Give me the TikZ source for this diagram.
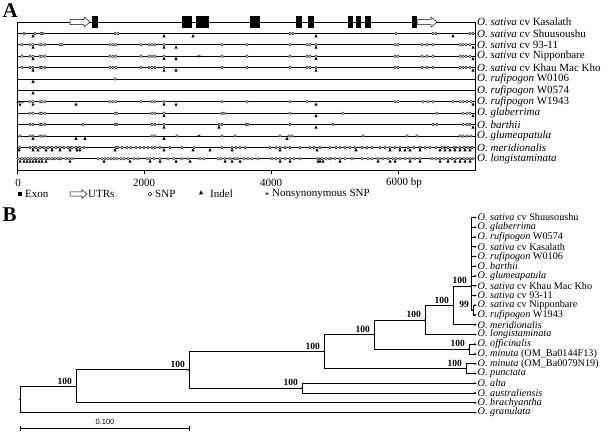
\documentclass[tikz,border=0pt]{standalone}
\usepackage{fontspec}
\setmainfont{Liberation Serif}
\setsansfont{Liberation Sans}
\usetikzlibrary{positioning, calc, arrows.meta}
\tikzset{every picture/.style={x=1pt, y=-1pt}}
\tikzset{seqline/.style={line width=0.8pt}}
\tikzset{exon/.style={fill=black}}
\tikzset{snp/.style={draw, fill=white, line width=0.4pt}}
\tikzset{rowlab/.style={anchor=west, inner sep=2pt, font=\fontsize{11}{12}\selectfont}}
\tikzset{legend/.style={anchor=west, inner sep=0pt, font=\fontsize{11}{12}\selectfont}}
\tikzset{tip/.style={anchor=west, inner sep=0.5pt, font=\fontsize{10.2}{10.5}\selectfont}}
\tikzset{branch/.style={line width=0.9pt}}
\tikzset{tipbr/.style={branch, -{Latex[length=2.6pt, width=2.2pt]}}}
\tikzset{boot/.style={anchor=south east, inner sep=0pt, font=\bfseries\fontsize{9.5}{10}\selectfont}}
\tikzset{panel/.style={anchor=base west, inner sep=0pt, font=\bfseries\fontsize{21}{21}\selectfont}}
\tikzset{indel/.pic={\fill (-1.6,3.9) -- (1.6,3.9) -- (0,0.7) -- cycle;}}
\tikzset{nsnp/.pic={\draw[line width=0.45pt] (0,0) -- (0,3.2) (-1.4,0.8) -- (1.4,2.4) (-1.4,2.4) -- (1.4,0.8);}}
\tikzset{utr/.pic={\draw[fill=white, line width=0.5pt] (0,-2.5) -- (14,-2.5) -- (14,-5) -- (20,0) -- (14,5) -- (14,2.5) -- (0,2.5) -- cycle;}}

\begin{document}
\begin{tikzpicture}
\useasboundingbox (0,0) rectangle (609,431);

% A: gene and polymorphism map
\node[panel] (labA) at (2.5,17.5) {A};
\foreach \r/\name in {1/{\textit{O. sativa} cv Kasalath}, 2/{\textit{O. sativa} cv Shuusoushu},
  3/{\textit{O. sativa} cv 93-11}, 4/{\textit{O. sativa} cv Nipponbare},
  5/{\textit{O. sativa} cv Khau Mac Kho}, 6/{\textit{O. rufipogon} W0106},
  7/{\textit{O. rufipogon} W0574}, 8/{\textit{O. rufipogon} W1943},
  9/{\textit{O. glaberrima}}, 10/{\textit{O. barthii}}, 11/{\textit{O. glumeapatula}},
  12/{\textit{O. meridionalis}}, 13/{\textit{O. longistaminata}}}
{
  \pgfmathsetmacro\yy{22+11.4*(\r-1)}
  \node[rowlab] (row\r) at (475,\yy) {\name};
  \draw[seqline] (17,\yy) -- (row\r.west);
}
\draw[seqline] (17,22) rectangle (475,170.2);

\foreach \a/\b in {92/98, 182/192, 196/209, 250/260, 296/302, 308/314, 348/353, 356/361, 365/371, 412/417}
  \fill[exon] (\a,16) rectangle (\b,28);
\pic at (70,22) {utr};
\pic at (417,22) {utr};

\foreach \r/\ts in {2/{33,164,193,316,453}, 3/{33,164,176,316,473}, 4/{33,164,176,316,473},
  5/{33,164,176,316,473}, 6/{33}, 7/{33}, 8/{20,33,76,164,176,316,473}, 9/{164,316,473},
  10/{164,219,316,473}, 11/{33,76,85,164,287},
  12/{19,33,38,46,52,60,70,77,80,115,164,193,210,232,280,317,356,390,400,405,410,420,440,445,450,455,460,465,470},
  13/{20,24,27,30,33,36,39,42,46,70,104,130,150,160,176,190,225,232,240,280,290,318,320,323,340,378,390,395,410,420,440,448,455,460,465,470}}
{
  \pgfmathsetmacro\yy{22+11.4*(\r-1)}
  \foreach \x in \ts \pic at (\x,\yy) {indel};
}
\foreach \r/\ss in {4/{199}, 8/{18,22}, 11/{199}, 12/{35,42,50,57,63,70,77,420,445,455,465,471},
  13/{22,28,35,41,47,53,60,235,320,330,440,452,462,470}}
{
  \pgfmathsetmacro\yy{22+11.4*(\r-1)}
  \foreach \x in \ss \pic at (\x,\yy-1.6) {nsnp};
}
\foreach \r/\cs in {2/{24,35,41,43,115,118,290,293,396,433,436,470,473},
  3/{22,30,33,40,42,45,60,62,110,113,116,141,149,152,155,164,222,247,290,307,310,316,395,398,422,427,433,460,463,466,470},
  4/{22,30,33,40,42,45,110,113,116,141,149,152,155,164,222,247,290,307,310,316,395,398,422,427,433,460,463,466,470},
  5/{22,30,33,40,42,45,110,113,116,141,149,152,155,164,222,247,290,307,310,316,395,398,422,427,433,460,463,466,470},
  6/{115},
  8/{30,33,40,42,45,110,113,116,141,152,155,164,222,247,290,307,395,398,423,428,433,453,460,463,467,471},
  9/{30,33,40,42,45,115,117,152,155,164,222,224,290,343,437,463,467,470},
  10/{30,33,40,42,45,83,115,117,152,155,164,219,222,246,248,290,333,433,437,463,467,470},
  11/{20,30,33,40,42,45,152,155,177,222,235,280,289,292,363,407,417,460,463,467,471},
  12/{20,30,33,36,40,44,48,52,56,60,64,68,72,76,80,84,116,118,122,127,131,136,140,144,148,152,155,160,170,182,194,222,232,236,240,245,270,276,280,285,290,300,310,314,320,330,336,340,345,350,355,362,367,372,380,385,390,395,400,408,414,420,425,430,436,442,448,454,460,464,468,472},
  13/{18,22,25,28,31,34,37,40,43,46,49,52,55,58,61,66,69,72,98,102,105,108,111,114,117,121,124,128,134,138,147,150,154,160,168,174,182,188,200,204,218,221,225,230,235,238,244,248,252,258,272,276,280,285,290,294,300,318,322,326,330,335,340,345,352,362,368,372,378,383,388,393,396,400,405,410,415,420,432,436,440,444,448,452,456,460,464,467,470,473}}
{
  \pgfmathsetmacro\yy{22+11.4*(\r-1)}
  \foreach \x in \cs \draw[snp] (\x,\yy) circle (1.35);
}

\foreach \t in {0,2000,4000,6000}
  \draw[seqline] ({17+\t*0.0635},170.2) -- ++(0,4);
\node[legend, anchor=center] (ax0) at (18,183) {0};
\node[legend, anchor=center] (ax2) at (144,183) {2000};
\node[legend, anchor=center] (ax4) at (271,183) {4000};
\node[legend] (ax6) at (386,183) {6000 bp};

\fill[exon] (17.5,191.5) rectangle (21.5,195.5);
\node[legend] (lexon) at (25,194) {Exon};
\pic[scale=0.85] at (70,194) {utr};
\node[legend] (lutr) at (88,194) {UTRs};
\draw[snp, line width=0.5pt] (150,194) circle (1.9);
\node[legend] (lsnp) at (155,194) {SNP};
\pic[scale=1.25] at (201,189.5) {indel};
\node[legend] (lindel) at (210,194) {Indel};
\pic at (267,192) {nsnp};
\node[legend] (lnsnp) at (272,194) {Nonsynonymous SNP};

% B: tree
\node[panel] (labB) at (2.5,221) {B};
\foreach \k/\name in {0/{\textit{O. sativa} cv Shuusoushu}, 1/{\textit{O. glaberrima}},
  2/{\textit{O. rufipogon} W0574}, 3/{\textit{O. sativa} cv Kasalath},
  4/{\textit{O. rufipogon} W0106}, 5/{\textit{O. barthii}}, 6/{\textit{O. glumeapatula}},
  7/{\textit{O. sativa} cv Khau Mac Kho}, 8/{\textit{O. sativa} cv 93-11},
  9/{\textit{O. sativa} cv Nipponbare}, 10/{\textit{O. rufipogon} W1943},
  11/{\textit{O. meridionalis}}, 12/{\textit{O. longistaminata}}, 13/{\textit{O. officinalis}},
  14/{\textit{O. minuta} (OM\_Ba0144F13)}, 15/{\textit{O. minuta} (OM\_Ba0079N19)},
  16/{\textit{O. punctata}}, 17/{\textit{O. alta}}, 18/{\textit{O. australiensis}},
  19/{\textit{O. brachyantha}}, 20/{\textit{O. granulata}}}
  \node[tip] (t\k) at (477,{217.5+9.75*\k}) {\name};

\coordinate (root) at (20,399.4);
\coordinate (nA) at (76,386.3);
\coordinate (nB) at (189,369.9);
\coordinate (nC) at (302,388.1);
\coordinate (nD) at (324,351.6);
\coordinate (nE) at (374,334.6);
\coordinate (nF) at (425,320);
\coordinate (nG) at (453,305.5);
\coordinate (nsat) at (471,286);
\coordinate (n99) at (473,310.1);
\coordinate (nOM) at (469,349.1);
\coordinate (nMP) at (466,368.6);

\draw[branch] (root) |- (nA);
\draw[tipbr] (root) |- (t20.west);
\draw[branch] (nA) |- (nB);
\draw[tipbr] (nA) |- (t19.west);
\draw[branch] (nB) |- (nD);
\draw[branch] (nB) |- (nC);
\draw[tipbr] (nC) |- (t17.west);
\draw[tipbr] (nC) |- (t18.west);
\draw[branch] (nD) |- (nE);
\draw[branch] (nD) |- (nMP);
\draw[tipbr] (nMP) |- (t15.west);
\draw[tipbr] (nMP) |- (t16.west);
\draw[branch] (nE) |- (nF);
\draw[branch] (nE) |- (nOM);
\draw[tipbr] (nOM) |- (t13.west);
\draw[tipbr] (nOM) |- (t14.west);
\draw[branch] (nF) |- (nG);
\draw[tipbr] (nF) |- (t12.west);
\draw[branch] (nG) |- (nsat);
\draw[tipbr] (nG) |- (t11.west);
\draw[branch] (nsat |- t0.west) -- (nsat |- n99) -- (n99);
\foreach \k in {0,...,8}
  \draw[tipbr] (nsat |- t\k.west) -- (t\k.west);
\draw[tipbr] (n99) |- (t9.west);
\draw[tipbr] (n99) |- (t10.west);

\foreach \n in {root,nA,nB,nC,nD,nE,nF,nG,nsat,n99,nOM,nMP}
  \fill (\n) circle (0.9);
\foreach \n in {nA,nB,nC,nD,nE,nF,nG,nsat,nOM,nMP}
  \node[boot] (b\n) at ($(\n)+(-4,-2)$) {100};
\node[boot] (bn99) at ($(n99)+(-4,-2)$) {99};

\coordinate (sb0) at (20,428);
\coordinate (sb1) at (190,428);
\draw[line width=0.6pt, {Bar[width=5pt]}-{Bar[width=5pt]}] (sb0) -- (sb1);
\node[anchor=south, inner sep=0pt, font=\sffamily\fontsize{7.5}{8}\selectfont] (sbl) at ($(sb0)!0.5!(sb1)+(0,-3)$) {0.100};
\end{tikzpicture}
\end{document}
